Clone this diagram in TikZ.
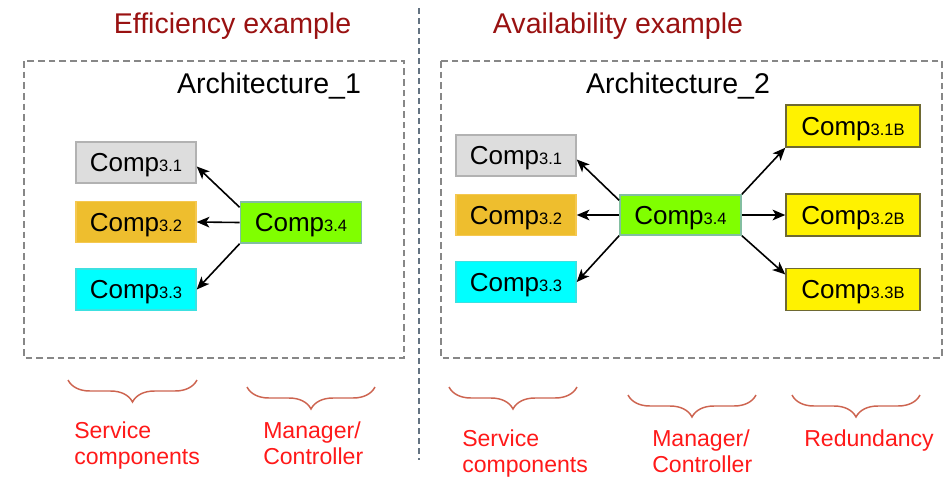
\documentclass[tikz,border=0pt]{standalone}
\usepackage{fontspec}
\setmainfont{Liberation Sans}
\usepackage{tikz}
\usetikzlibrary{arrows.meta}
\usetikzlibrary{decorations.pathreplacing}
\definecolor{titlered}{RGB}{153,17,17}
\definecolor{labelred}{RGB}{255,25,25}
\definecolor{bracered}{RGB}{205,100,80}
\definecolor{boxgray}{RGB}{135,135,135}
\definecolor{sepgray}{RGB}{100,115,130}
\definecolor{compgold}{RGB}{238,190,46}
\definecolor{complime}{RGB}{128,255,0}
\definecolor{compcyan}{RGB}{0,255,255}
\newcommand{\compname}[1]{Comp{\fontsize{12.4}{14}\selectfont #1}}
\tikzset{
    compnode/.style = {rectangle, line width=1.1pt, align=center, minimum width=90pt, minimum height=30.75pt, inner sep=0pt, text depth=0pt, font=\fontsize{19.5}{22}\selectfont, text=black},
    compg/.style = {compnode, draw={rgb,255:red,178;green,178;blue,178}, fill={rgb,255:red,221;green,221;blue,221}},
    compo/.style = {compnode, draw={rgb,255:red,245;green,200;blue,80}, fill=compgold},
    compc/.style = {compnode, draw={rgb,255:red,60;green,225;blue,225}, fill=compcyan},
    compl/.style = {compnode, draw={rgb,255:red,130;green,190;blue,160}, fill=complime, minimum width=91pt},
    compy/.style = {compnode, draw={rgb,255:red,110;green,105;blue,50}, fill=yellow, minimum width=100.5pt, minimum height=31.5pt},
    edgea/.style = {-{Stealth[length=9.5pt,width=8pt,inset=2.5pt]}, line width=1.2pt, black},
    archbox/.style = {draw=boxgray, line width=1.1pt, dash pattern=on 5pt off 3pt},
    brc/.style = {decorate, decoration={brace, mirror, amplitude=16.5pt}, draw=bracered, line width=1.1pt},
    titletext/.style = {anchor=base, inner sep=0pt, text=titlered, font=\fontsize{21.4}{24}\selectfont},
    archtext/.style = {anchor=base, inner sep=0pt, text=black, font=\fontsize{21.4}{24}\selectfont},
    labeltext/.style = {anchor=base west, inner sep=0pt, align=left, text=labelred, font=\fontsize{17.3}{19.5}\selectfont}
}

\begin{document}
\begin{tikzpicture}[x=0.75pt, y=-0.75pt]
  \useasboundingbox (0,0) rectangle (951,501);
  % separator
  \draw[sepgray, line width=1.1pt, dash pattern=on 4.5pt off 3pt] (419,8) -- (419,460);
  % titles
  \node (t1) at (232.5,33) [titletext] {Efficiency example};
  \node (t2) at (618,33) [titletext] {Availability example};
  % architecture boxes
  \draw[archbox] (24,61) rectangle (404,358);
  \draw[archbox] (441,61) rectangle (942,358);
  \node (a1) at (269,93) [archtext] {Architecture\_1};
  \node (a2) at (678,93) [archtext] {Architecture\_2};
  % architecture 1
  \node (l31) at (136,162.5) [compg] {\compname{3.1}};
  \node (l32) at (136,222) [compo] {\compname{3.2}};
  \node (l33) at (136,289.5) [compc] {\compname{3.3}};
  \node (l34) at (301,222.5) [compl] {\compname{3.4}};
  \draw[edgea] ([yshift=-4.5pt]l34.north west) -- ([yshift=-3pt]l31.east);
  \draw[edgea] (l34.west) -- (l32.east);
  \draw[edgea] (l34.south west) -- (l33.east);
  % architecture 2
  \node (r31) at (516,155.5) [compg] {\compname{3.1}};
  \node (r32) at (516,215) [compo] {\compname{3.2}};
  \node (r33) at (516,282) [compc] {\compname{3.3}};
  \node (r34) at (680.5,215) [compl, minimum height=30pt] {\compname{3.4}};
  \node (r31b) at (853,126) [compy] {\compname{3.1B}};
  \node (r32b) at (853,215) [compy] {\compname{3.2B}};
  \node (r33b) at (853,289.5) [compy] {\compname{3.3B}};
  \draw[edgea] ([yshift=-4.5pt]r34.north west) -- ([yshift=-3pt]r31.east);
  \draw[edgea] (r34.west) -- (r32.east);
  \draw[edgea] (r34.south west) -- (r33.east);
  \draw[edgea] (r34.north east) -- (r31b.south west);
  \draw[edgea] (r34.east) -- (r32b.west);
  \draw[edgea] (r34.south east) -- ([yshift=-5pt]r33b.north west);
  % braces
  \draw[brc] (68,380) -- (197,380);
  \draw[brc] (247,387) -- (375,387);
  \draw[brc] (449,387) -- (577,387);
  \draw[brc] (628,395) -- (756,395);
  \draw[brc] (792,395) -- (920,395);
  % labels
  \node (s1) at (74,464) [labeltext] {Service\\components};
  \node (m1) at (263,464) [labeltext] {Manager/\\Controller};
  \node (s2) at (462,472) [labeltext] {Service\\components};
  \node (m2) at (652,472) [labeltext] {Manager/\\Controller};
  \node (rd) at (804,446) [labeltext] {Redundancy};
\end{tikzpicture}
\end{document}
